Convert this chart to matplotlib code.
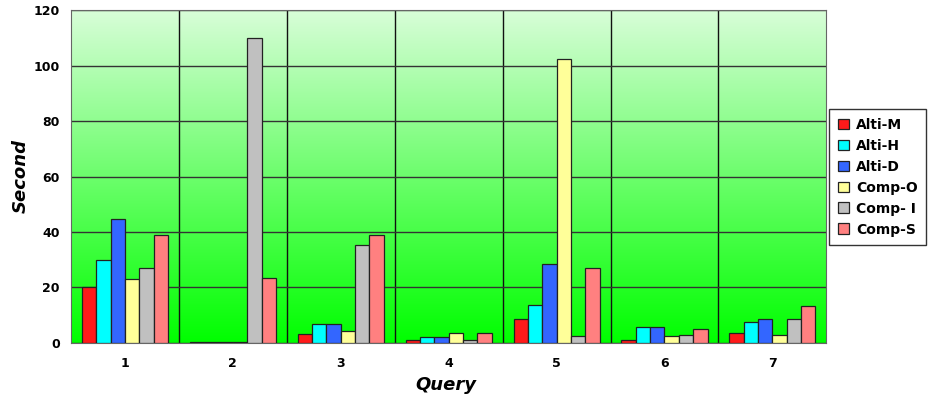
import matplotlib

matplotlib.use("Agg")
import matplotlib.pyplot as plt
import numpy as np
from matplotlib.colors import LinearSegmentedColormap

queries = ["1", "2", "3", "4", "5", "6", "7"]
series_names = ["Alti-M", "Alti-H", "Alti-D", "Comp-O", "Comp- I", "Comp-S"]
alti_m = [20, 0.3, 3.2, 1.0, 8.6, 1.0, 3.5]
alti_h = [30, 0.3, 7.0, 2.0, 13.7, 5.7, 7.6]
alti_d = [44.7, 0.3, 7.0, 2.0, 28.5, 5.7, 8.7]
comp_o = [23, 0.3, 4.3, 3.5, 102.5, 2.5, 2.9]
comp_i = [27, 110, 35.3, 1.0, 2.4, 2.7, 8.7]
comp_s = [39, 23.4, 39, 3.7, 27, 4.9, 13.2]
colors = ["#ff1a1a", "#00ffff", "#3366ff", "#ffff99", "#c0c0c0", "#ff8080"]

fig = plt.figure(figsize=(9.43, 4.03), dpi=100)
ax = fig.add_axes([0.0753, 0.149, 0.801, 0.826])

n = len(queries)
# gradient background
grad = LinearSegmentedColormap.from_list("bg", ["#00ff00", "#d8fdd8"])
ax.imshow(np.linspace(0, 1, 256).reshape(-1, 1), cmap=grad, origin="lower",
          extent=[-0.5, n - 0.5, 0, 120], aspect="auto", zorder=0)

x = np.arange(n)
width = 0.133
all_series = [alti_m, alti_h, alti_d, comp_o, comp_i, comp_s]
for idx, (name, values, color) in enumerate(zip(series_names, all_series, colors)):
    pos = x + (idx - 2.5) * width
    ax.bar(pos, values, width=width, color=color, edgecolor="#222222",
           linewidth=0.9, label=name, zorder=3)

ax.set_xlim(-0.5, n - 0.5)
ax.set_ylim(0, 120)
ax.set_yticks(range(0, 121, 20))
ax.set_xticks(x)
ax.set_xticklabels(queries)
ax.set_xticks(np.arange(0.5, n - 0.5, 1), minor=True)
ax.grid(True, axis="y", color="#333333", linewidth=1.0, zorder=1)
ax.grid(True, axis="x", which="minor", color="#111111", linewidth=1.0, zorder=1)
ax.tick_params(axis="both", which="both", length=0, labelsize=9)
for lab in ax.get_xticklabels() + ax.get_yticklabels():
    lab.set_fontweight("bold")
ax.tick_params(axis="x", pad=10)
ax.tick_params(axis="y", pad=8)
for side in ax.spines.values():
    side.set_color("#666666")

fig.text(21 / 943, 1 - 176 / 403, "Second", fontsize=13, fontstyle="italic",
         fontweight="bold", rotation=90, ha="center", va="center")
fig.text(446 / 943, 1 - 385 / 403, "Query", fontsize=13, fontstyle="italic",
         fontweight="bold", ha="center", va="center")

leg = ax.legend(loc="center left", bbox_to_anchor=(1.004, 0.498), frameon=True,
                fancybox=False, edgecolor="black", fontsize=10,
                handlelength=0.8, handleheight=0.8, handletextpad=0.5,
                labelspacing=0.5, borderpad=0.6, borderaxespad=0)
leg.get_frame().set_linewidth(1.0)
for t in leg.get_texts():
    t.set_fontweight("bold")

fig.savefig("out.png", dpi=100)
